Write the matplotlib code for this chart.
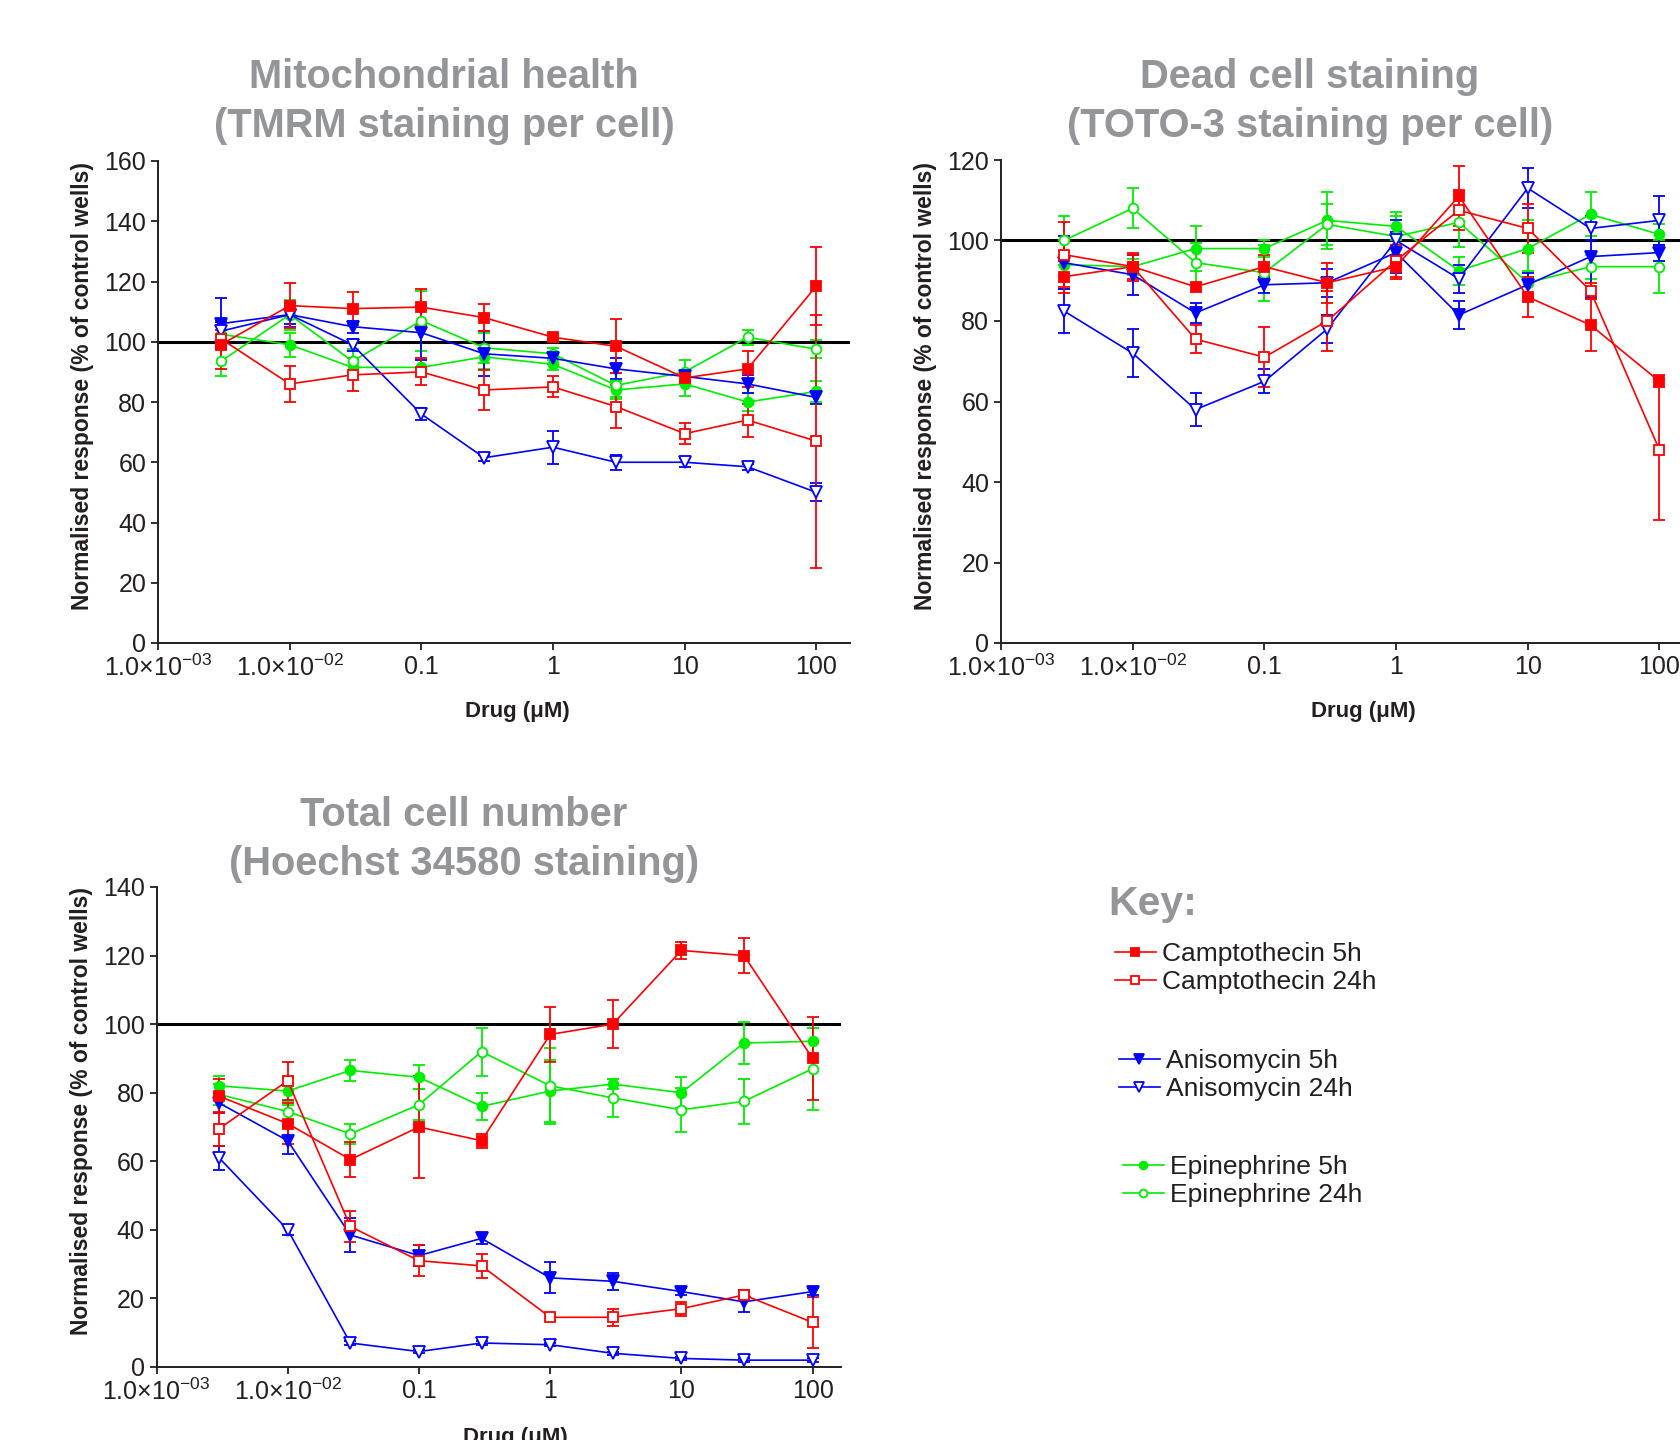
import matplotlib
matplotlib.use('Agg')
import matplotlib.pyplot as plt

plt.rcParams['font.family'] = ['Liberation Sans', 'DejaVu Sans']
plt.rcParams['mathtext.fontset'] = 'custom'
plt.rcParams['mathtext.rm'] = 'Liberation Sans'
plt.rcParams['mathtext.default'] = 'regular'

# drug concentrations (uM)
conc = [0.003, 0.01, 0.03, 0.1, 0.3, 1, 3, 10, 30, 100]
xtick_vals = [1e-3, 1e-2, 0.1, 1, 10, 100]
xtick_labels = [r'1.0×10$^{-03}$', r'1.0×10$^{-02}$', '0.1', '1', '10', '100']

series = ['Camptothecin 5h', 'Camptothecin 24h', 'Anisomycin 5h',
          'Anisomycin 24h', 'Epinephrine 5h', 'Epinephrine 24h']

# Mitochondrial health (TMRM)
tmrm_mean = {
    'Camptothecin 5h': [99, 112, 111, 111.5, 108, 101.5, 98.5, 88, 91, 118.5],
    'Camptothecin 24h': [101, 86, 89, 90, 84, 85, 78.5, 69.5, 74, 67],
    'Anisomycin 5h': [106, 109, 105, 103, 96, 94.5, 91, 88.5, 86, 81.5],
    'Anisomycin 24h': [103.5, 109, 99, 76, 61.5, 65, 60, 60, 58.5, 50],
    'Epinephrine 5h': [102.5, 99, 91.5, 91.5, 95, 92.5, 84, 86, 80, 83.5],
    'Epinephrine 24h': [93.5, 109, 93.5, 107, 98, 96, 85.5, 90, 101.5, 97.5]}
tmrm_err = {
    'Camptothecin 5h': [8, 7.5, 5.5, 6, 4.5, 1, 9, 2, 6, 13],
    'Camptothecin 24h': [3, 6, 5.5, 4.5, 6.5, 3.5, 7, 3.5, 5.5, 42],
    'Anisomycin 5h': [8.5, 4, 2, 9, 7.5, 2, 3.5, 1.5, 3, 2],
    'Anisomycin 24h': [3, 3, 2, 2, 1, 5.5, 2.5, 1.5, 1, 3],
    'Epinephrine 5h': [4, 4, 3, 3, 4, 2, 3, 4, 3, 3.5],
    'Epinephrine 24h': [5, 5, 4, 10, 5, 2, 4, 4, 2.5, 3]}

# Dead cell staining (TOTO-3)
toto_mean = {
    'Camptothecin 5h': [91, 93.5, 88.5, 93.5, 89.5, 93.5, 111, 86, 79, 65],
    'Camptothecin 24h': [96.5, 93.5, 75.5, 71, 80, 95, 107.5, 103, 87.5, 48],
    'Anisomycin 5h': [94.5, 91.5, 82, 89, 89.5, 97, 81.5, 89, 96, 97],
    'Anisomycin 24h': [82.5, 72, 58, 65, 78, 100, 90.5, 113, 103, 105],
    'Epinephrine 5h': [94, 93.5, 98, 98, 105, 103.5, 92.5, 98, 106.5, 101.5],
    'Epinephrine 24h': [100, 108, 94.5, 92, 104, 101, 104.5, 89.5, 93.5, 93.5]}
toto_err = {
    'Camptothecin 5h': [4, 3.5, 1, 3, 5, 3, 7.5, 5, 6.5, 1.5],
    'Camptothecin 24h': [8, 3, 3.5, 7.5, 7.5, 4, 5, 6, 2, 17.5],
    'Anisomycin 5h': [6.5, 5, 2.5, 2, 3.5, 5, 3.5, 3, 10, 2],
    'Anisomycin 24h': [5.5, 6, 4, 3, 3.5, 5, 3.5, 5, 3, 6],
    'Epinephrine 5h': [6, 2, 5.5, 2, 7, 3.5, 3.5, 7, 5.5, 2.5],
    'Epinephrine 24h': [6, 5, 5, 7, 5, 5, 6, 3, 3, 6.5]}

# Total cell number (Hoechst 34580)
hoechst_mean = {
    'Camptothecin 5h': [79, 71, 60.5, 70, 66, 97, 100, 121.5, 120, 90],
    'Camptothecin 24h': [69.5, 83.5, 41, 31, 29.5, 14.5, 14.5, 17, 21, 13],
    'Anisomycin 5h': [77, 66, 38.5, 32.5, 37.5, 26, 25, 22, 19, 22],
    'Anisomycin 24h': [61, 40, 7, 4.5, 7, 6.5, 4, 2.5, 2, 2],
    'Epinephrine 5h': [82, 80.5, 86.5, 84.5, 76, 80.5, 82.5, 80, 94.5, 95],
    'Epinephrine 24h': [79.5, 74.5, 68, 76.5, 92, 82, 78.5, 75, 77.5, 87]}
hoechst_err = {
    'Camptothecin 5h': [5, 6, 5, 15, 2, 8, 7, 2.5, 5, 12],
    'Camptothecin 24h': [5, 5.5, 4.5, 4.5, 3.5, 1, 2.5, 2, 1.5, 7.5],
    'Anisomycin 5h': [3, 4, 5, 3, 1.5, 4.5, 2.5, 1, 3, 1],
    'Anisomycin 24h': [3.5, 1.5, 0.5, 0.5, 0.5, 0.5, 0.5, 0.5, 0.5, 0.5],
    'Epinephrine 5h': [3, 4, 3, 3.5, 4, 9, 1.5, 4.5, 6, 4],
    'Epinephrine 24h': [3, 3, 3, 4.5, 7, 11, 5.5, 6.5, 6.5, 12]}

styles = {
    'Camptothecin 5h': ('#ff0000', 's', True, 7),
    'Camptothecin 24h': ('#ff0000', 's', False, 7),
    'Anisomycin 5h': ('#0000ff', 'v', True, 8.5),
    'Anisomycin 24h': ('#0000ff', 'v', False, 8.5),
    'Epinephrine 5h': ('#00ee00', 'o', True, 7),
    'Epinephrine 24h': ('#00ee00', 'o', False, 7)}
draw_order = ['Epinephrine 5h', 'Epinephrine 24h', 'Anisomycin 5h',
              'Anisomycin 24h', 'Camptothecin 24h', 'Camptothecin 5h']

GREY = '#939598'
DARK = '#231f20'
W, H = 1681, 1440


def draw_panel(ax, means, errs, ymax, xmax, xlab_pos):
    handles = {}
    for name in draw_order:
        col, mk, filled, ms = styles[name]
        cont = ax.errorbar(conc, means[name], yerr=errs[name], color=col, marker=mk,
                           ms=ms, mfc=col if filled else 'white', mec=col, mew=1.3,
                           lw=1.2, elinewidth=1.3, capsize=4.5, capthick=1.5,
                           clip_on=False, zorder=3)
        handles[name] = cont.lines[0]
    ax.axhline(100, color='black', lw=2.2, zorder=2)
    ax.set_xscale('log')
    ax.set_xlim(1e-3, xmax)
    ax.set_ylim(0, ymax)
    ax.set_yticks(range(0, ymax + 1, 20))
    ax.set_xticks(xtick_vals)
    ax.set_xticklabels(xtick_labels)
    ax.minorticks_off()
    for s in ['top', 'right']:
        ax.spines[s].set_visible(False)
    for s in ['left', 'bottom']:
        ax.spines[s].set_linewidth(1.4)
        ax.spines[s].set_color(DARK)
    ax.tick_params(direction='out', length=5, width=1.3, pad=3.5,
                   labelsize=18, colors=DARK)
    ax.set_ylabel('Normalised response (% of control wells)', fontsize=16.5,
                  fontweight='bold', color=DARK)
    ax.yaxis.set_label_coords(-0.093, 0.533)
    ax.set_xlabel('Drug (μM)', fontsize=16, fontweight='bold', color=DARK)
    ax.xaxis.set_label_coords(xlab_pos[0], xlab_pos[1])
    return handles


fig = plt.figure(figsize=(W / 100, H / 100), dpi=100)
ax1 = fig.add_axes([158 / W, 797 / H, 692 / W, 482 / H])
ax2 = fig.add_axes([1001 / W, 797 / H, 692 / W, 483 / H])
ax3 = fig.add_axes([156.5 / W, 73 / H, 685 / W, 480 / H])

draw_panel(ax1, tmrm_mean, tmrm_err, 160, 180, (0.52, -0.12))
draw_panel(ax2, toto_mean, toto_err, 120, 180, (0.523, -0.12))
h = draw_panel(ax3, hoechst_mean, hoechst_err, 140, 166, (0.524, -0.125))

title_kw = dict(ha='center', va='baseline', fontsize=28.7, fontweight='bold', color=GREY)
fig.text(444 / W, 1 - 88 / H, 'Mitochondrial health', **title_kw)
fig.text(444 / W, 1 - 137 / H, '(TMRM staining per cell)', **title_kw)
fig.text(1310 / W, 1 - 88 / H, 'Dead cell staining', **title_kw)
fig.text(1310 / W, 1 - 137 / H, '(TOTO-3 staining per cell)', **title_kw)
fig.text(464 / W, 1 - 826 / H, 'Total cell number', **title_kw)
fig.text(464 / W, 1 - 875 / H, '(Hoechst 34580 staining)', **title_kw)

fig.text(1108 / W, 1 - 915 / H, 'Key:', ha='left', va='baseline', fontsize=29.5,
         fontweight='bold', color=GREY)

groups = [(['Camptothecin 5h', 'Camptothecin 24h'], 1115, 968),
          (['Anisomycin 5h', 'Anisomycin 24h'], 1119, 1075),
          (['Epinephrine 5h', 'Epinephrine 24h'], 1123, 1181)]
for names, gx, gy in groups:
    fig.legend([h[n] for n in names], names, loc='center left',
               bbox_to_anchor=(gx / W, 1 - gy / H), frameon=False, fontsize=19,
               borderpad=0, borderaxespad=0, handlelength=1.55, handletextpad=0.25,
               labelspacing=0.16, markerscale=0.8, numpoints=1, labelcolor=DARK)

fig.savefig('out.png', dpi=100)
